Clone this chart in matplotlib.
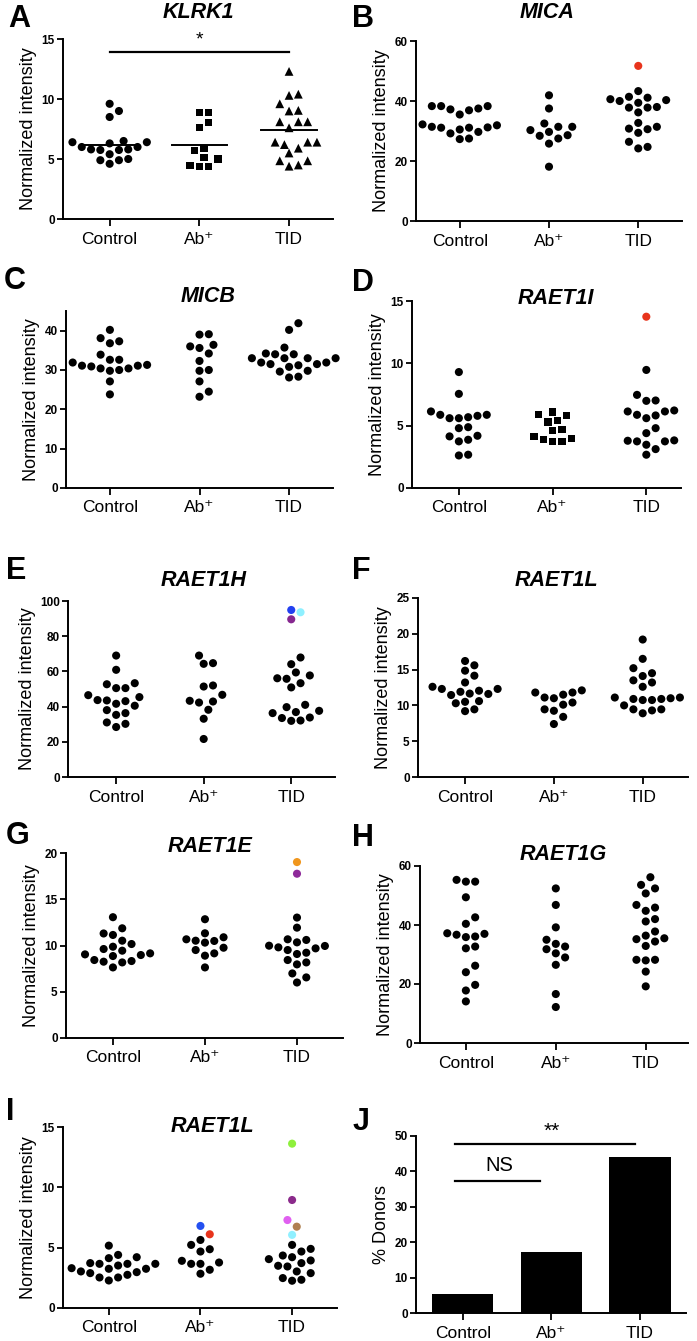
import numpy as np
import matplotlib
matplotlib.use('Agg')
import matplotlib.pyplot as plt

plt.rcParams['font.family'] = ['Liberation Sans', 'DejaVu Sans']

W, H = 697, 1341
groups = ['Control', 'Ab\u207a', 'TID']

# A  KLRK1
klrk1_ctrl = [9.6, 9.0, 8.5, 6.4, 6.5, 6.4, 6.3, 6.0, 5.8, 5.75, 5.75, 5.8, 6.0, 5.4, 4.9, 4.6, 4.9, 5.0]
klrk1_ab = [8.9, 8.9, 8.05, 7.6, 5.9, 5.7, 5.1, 5.0, 4.45, 4.35, 4.4]
klrk1_tid = [12.3, 10.4, 10.3, 9.6, 9.05, 9.0, 8.1, 8.1, 8.1, 7.6, 6.4, 6.4, 6.4, 6.2, 5.9, 5.5,
             4.85, 4.85, 4.4, 4.5]
klrk1_means = [6.2, 6.2, 7.4]

# B  MICA
mica_ctrl = [37.5, 38.3, 38.3, 37.2, 38.3, 36.9, 35.5, 32.2, 30.5, 31.1, 29.7, 31.1, 31.9, 29.2,
             31.4, 31.2, 27.3, 27.5]
mica_ab = [41.9, 37.5, 32.5, 29.7, 30.3, 27.5, 31.4, 28.6, 25.8, 31.4, 28.4, 18.1]
mica_tid = [40.3, 39.4, 41.1, 41.4, 40.6, 43.3, 40.0, 36.2, 37.8, 37.8, 38.0, 31.4, 32.7, 29.4,
            30.8, 30.6, 24.2, 26.4, 24.7]
mica_tid_hl = [51.7]
mica_tid_hl_col = ['#e8341c']

# C  MICB
micb_ctrl = [40.2, 38.1, 37.3, 36.8, 33.9, 32.6, 32.6, 31.9, 31.1, 30.9, 30.4, 30.0, 29.8, 30.4,
             31.1, 31.3, 27.1, 23.8]
micb_ab = [39.0, 39.1, 36.4, 35.6, 34.2, 36.0, 32.3, 29.8, 30.0, 27.1, 24.5, 23.2]
micb_tid = [41.9, 40.2, 35.7, 33.0, 33.0, 34.0, 34.2, 34.0, 33.0, 33.0, 31.9, 31.5, 31.2, 31.5,
            31.9, 30.8, 29.6, 29.8, 28.1, 28.3]

# D  RAET1I
raet1i_ctrl = [9.3, 7.55, 5.87, 5.6, 5.68, 5.79, 5.87, 6.14, 5.6, 4.88, 4.8, 3.87, 4.19, 4.14,
               3.74, 2.67, 2.61]
raet1i_ab = [5.8, 4.7, 4.1, 5.9, 5.3, 4.6, 3.9, 6.1, 5.4, 4.0, 3.7, 3.7]
raet1i_tid = [9.47, 7.02, 6.99, 7.47, 5.87, 6.14, 6.22, 6.14, 5.82, 5.6, 4.8, 4.4, 3.82, 3.74,
              3.79, 3.74, 3.47, 3.12, 2.67]
raet1i_tid_hl = [13.74]
raet1i_tid_hl_col = ['#e8341c']

# E  RAET1H
raet1h_ctrl = [69.0, 60.9, 53.3, 52.7, 50.5, 50.5, 45.4, 46.5, 43.1, 43.7, 43.5, 41.6, 40.5,
               38.0, 35.3, 36.3, 31.0, 30.2, 28.4]
raet1h_ab = [69.0, 64.3, 64.7, 51.4, 52.0, 46.7, 43.3, 42.9, 42.3, 38.2, 33.1, 21.6]
raet1h_tid = [67.9, 64.1, 59.4, 57.7, 56.1, 55.8, 53.3, 50.9, 41.0, 39.7, 37.6, 36.3, 36.9,
              33.5, 33.8, 32.1, 31.9]
raet1h_tid_hl = [94.9, 93.6, 89.6]
raet1h_tid_hl_col = ['#2340f0', '#8ff0ff', '#86278f']

# F  RAET1L
raet1l_ctrl = [15.6, 16.2, 14.85, 14.15, 13.2, 12.6, 12.3, 11.9, 11.6, 11.45, 11.65, 12.05, 12.3,
               10.6, 10.3, 10.5, 9.2, 9.45]
raet1l_ab = [11.8, 11.5, 12.1, 11.8, 11.0, 11.1, 10.4, 10.1, 9.45, 9.25, 8.4, 7.4]
raet1l_tid = [19.2, 16.5, 15.2, 14.5, 14.1, 13.5, 13.2, 12.6, 11.1, 10.9, 10.75, 10.75, 10.9,
              11.0, 11.1, 10.0, 9.45, 8.9, 9.3, 9.45]

# G  RAET1E
raet1e_ctrl = [13.06, 11.86, 11.3, 11.14, 10.52, 9.62, 10.16, 9.44, 9.87, 9.15, 8.86, 8.43, 9.04,
               8.32, 8.97, 8.17, 8.25, 7.63]
raet1e_ab = [12.84, 11.32, 10.89, 10.52, 10.49, 10.67, 10.31, 9.51, 9.76, 9.15, 8.9, 7.63]
raet1e_tid = [13.02, 11.93, 10.67, 10.6, 10.34, 9.95, 9.8, 9.98, 9.69, 9.51, 9.08, 9.22, 8.17,
              8.43, 7.96, 6.98, 6.55, 6.0]
raet1e_tid_hl = [19.02, 17.76]
raet1e_tid_hl_col = ['#f0961e', '#8e2a9a']

# H  RAET1G
raet1g_ctrl = [54.7, 55.3, 54.7, 49.4, 42.6, 40.4, 37.2, 36.7, 35.9, 36.1, 37.0, 32.7, 32.1,
               24.0, 26.2, 19.7, 17.8, 14.1]
raet1g_ab = [52.4, 46.8, 39.2, 35.0, 33.6, 31.8, 32.7, 30.4, 29.0, 26.5, 16.6, 12.2]
raet1g_tid = [56.2, 52.4, 50.7, 53.6, 45.9, 44.8, 46.8, 37.8, 41.2, 42.0, 35.5, 34.4, 32.9, 35.2,
              36.4, 28.2, 28.0, 28.2, 24.2, 19.2]

# I  RAET1L (second probe)
raet1l2_ctrl = [5.17, 4.4, 3.66, 3.66, 3.72, 4.13, 4.21, 3.66, 3.25, 3.3, 3.25, 3.52, 3.03, 2.97,
                2.89, 2.75, 2.53, 2.53, 2.28]
raet1l2_ab = [4.87, 5.23, 5.64, 4.68, 3.66, 3.77, 3.91, 3.66, 3.17, 2.84]
raet1l2_ab_hl = [6.11, 6.8]
raet1l2_ab_hl_col = ['#e8341c', '#2450f0']
raet1l2_tid = [4.9, 4.68, 5.23, 4.35, 4.21, 3.5, 3.94, 4.05, 3.72, 3.44, 2.89, 3.03, 2.26, 2.48,
               2.34]
raet1l2_tid_hl = [13.62, 8.95, 7.29, 6.74, 6.06]
raet1l2_tid_hl_col = ['#8ef03c', '#8b2a8b', '#e060f0', '#b08050', '#90f0ff']

# J  % donors
donors_pct = [5.5, 17.2, 44.2]


def rect(l, t, r, b):
    return [l / W, 1 - b / H, (r - l) / W, (b - t) / H]


def swarm(vals, xpx, ypx, d=9.3, step=4.65):
    # simple beeswarm: place points from low to high, nearest free slot to centre
    vals = np.asarray(vals, float)
    order = np.argsort(vals)
    cands = [0.0]
    for k in range(1, 40):
        cands += [k * step, -k * step]
    placed = []
    xs = np.zeros(len(vals))
    for i in order:
        y = vals[i] * ypx
        for c in cands:
            if all((c - px) ** 2 + (y - py) ** 2 >= d * d for px, py in placed):
                break
        xs[i] = c / xpx
        placed.append((c, y))
    return xs


def style_axes(ax, ymax, yticks, ylabel, xlim):
    ax.set_xlim(*xlim)
    ax.set_ylim(0, ymax)
    ax.set_yticks(yticks)
    ax.set_xticks([0, 1, 2])
    ax.set_xticklabels(groups, fontsize=12.5)
    for lab in ax.get_yticklabels():
        lab.set_fontweight('bold')
        lab.set_fontsize(8.5)
    for s in ['top', 'right']:
        ax.spines[s].set_visible(False)
    for s in ['left', 'bottom']:
        ax.spines[s].set_linewidth(1.4)
    ax.tick_params(axis='y', length=4, width=1.3, pad=2)
    ax.tick_params(axis='x', length=5, width=1.3, pad=4)
    ax.set_ylabel(ylabel, fontsize=13, labelpad=3)
    ax.patch.set_alpha(0)


fig = plt.figure(figsize=(W / 100, H / 100), dpi=100)

panels = [
    # letter, title, rect(px), ymax, yticks, data, highlights, markers, xlim, letter pos, title pos
    ('A', 'KLRK1', (63, 39, 333, 219), 15, [0, 5, 10, 15],
     [klrk1_ctrl, klrk1_ab, klrk1_tid], [None, None, None], ['o', 's', '^'],
     (-0.52, 2.49), (19, 19), (198, 12)),
    ('B', 'MICA', (416, 41, 682, 221), 60, [0, 20, 40, 60],
     [mica_ctrl, mica_ab, mica_tid], [None, None, (mica_tid_hl, mica_tid_hl_col)], ['o', 'o', 'o'],
     (-0.49, 2.49), (363, 19), (547, 12)),
    ('C', 'MICB', (66, 311, 333, 488), 45, [0, 10, 20, 30, 40],
     [micb_ctrl, micb_ab, micb_tid], [None, None, None], ['o', 'o', 'o'],
     (-0.49, 2.49), (15, 281), (208, 297)),
    ('D', 'RAET1I', (412, 301, 681, 488), 15, [0, 5, 10, 15],
     [raet1i_ctrl, raet1i_ab, raet1i_tid], [None, None, (raet1i_tid_hl, raet1i_tid_hl_col)],
     ['o', 's', 'o'], (-0.5, 2.37), (363, 283), (556, 298)),
    ('E', 'RAET1H', (68, 601, 335, 777), 100, [0, 20, 40, 60, 80, 100],
     [raet1h_ctrl, raet1h_ab, raet1h_tid], [None, None, (raet1h_tid_hl, raet1h_tid_hl_col)],
     ['o', 'o', 'o'], (-0.55, 2.5), (16, 571), (204, 581)),
    ('F', 'RAET1L', (418, 598, 688, 777), 25, [0, 5, 10, 15, 20, 25],
     [raet1l_ctrl, raet1l_ab, raet1l_tid], [None, None, None], ['o', 'o', 'o'],
     (-0.53, 2.51), (361, 571), (556, 581)),
    ('G', 'RAET1E', (66, 853, 343, 1038), 20, [0, 5, 10, 15, 20],
     [raet1e_ctrl, raet1e_ab, raet1e_tid], [None, None, (raet1e_tid_hl, raet1e_tid_hl_col)],
     ['o', 'o', 'o'], (-0.51, 2.5), (18, 836), (210, 846)),
    ('H', 'RAET1G', (420, 866, 688, 1043), 60, [0, 20, 40, 60],
     [raet1g_ctrl, raet1g_ab, raet1g_tid], [None, None, None], ['o', 'o', 'o'],
     (-0.51, 2.47), (363, 838), (563, 854)),
    ('I', 'RAET1L', (63, 1127, 337, 1308), 15, [0, 5, 10, 15],
     [raet1l2_ctrl, raet1l2_ab, raet1l2_tid],
     [None, (raet1l2_ab_hl, raet1l2_ab_hl_col), (raet1l2_tid_hl, raet1l2_tid_hl_col)],
     ['o', 'o', 'o'], (-0.5, 2.49), (10, 1112), (212, 1127)),
]

msize = {'o': 34, 's': 27, '^': 40}

for letter, title, r, ymax, yticks, data, hls, marks, xlim, lpos, tpos in panels:
    ax = fig.add_axes(rect(*r))
    style_axes(ax, ymax, yticks, 'Normalized intensity', xlim)
    xpx = (r[2] - r[0]) / (xlim[1] - xlim[0])
    ypx = (r[3] - r[1]) / ymax
    for gi, (vals, hl, mk) in enumerate(zip(data, hls, marks)):
        vals = list(vals)
        cols = ['black'] * len(vals)
        if hl is not None:
            vals = vals + list(hl[0])
            cols = cols + list(hl[1])
        offs = swarm(vals, xpx, ypx)
        ax.scatter(gi + offs, vals, s=msize[mk], marker=mk, c=cols, linewidths=0,
                   zorder=3, clip_on=False)
    fig.text(lpos[0] / W, 1 - lpos[1] / H, letter, fontsize=22, fontweight='bold',
             ha='center', va='center')
    fig.text(tpos[0] / W, 1 - tpos[1] / H, title, fontsize=15.5, fontweight='bold',
             style='italic', ha='center', va='center')
    if letter == 'A':
        for gi, m in enumerate(klrk1_means):
            ax.plot([gi - 0.31, gi + 0.31], [m, m], color='black', lw=1.4, zorder=4)
        ax.plot([0, 2], [13.9, 13.9], color='black', lw=1.6, clip_on=False)
        ax.text(1, 14.2, '*', fontsize=14, ha='center', va='bottom')

# J bar chart
axj = fig.add_axes(rect(416, 1136, 686, 1313))
axj.bar([0, 1, 2], donors_pct, width=0.69, color='black', zorder=3)
style_axes(axj, 50, [0, 10, 20, 30, 40, 50], '% Donors', (-0.53, 2.52))
axj.plot([-0.09, 1.94], [47.7, 47.7], color='black', lw=1.6, clip_on=False)
axj.plot([-0.09, 0.87], [37.4, 37.4], color='black', lw=1.6, clip_on=False)
axj.text(0.41, 41.8, 'NS', fontsize=14.5, ha='center', va='center')
axj.text(1.0, 48.5, '**', fontsize=15, ha='center', va='bottom')
fig.text(361 / W, 1 - 1122 / H, 'J', fontsize=22, fontweight='bold', ha='center', va='center')

fig.savefig('out.png', dpi=100)
